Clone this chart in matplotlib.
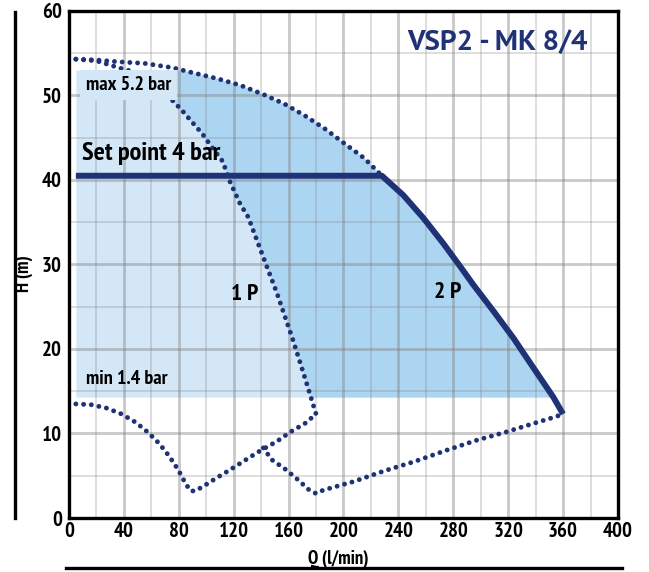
import numpy as np
import matplotlib
matplotlib.use('Agg')
import matplotlib.pyplot as plt
from matplotlib.lines import Line2D

plt.rcParams['font.family'] = ['PT Sans Narrow', 'DejaVu Sans']
plt.rcParams['font.weight'] = 'bold'
plt.rcParams['axes.labelweight'] = 'bold'

""" Curve data read from the picture """

# max pressure curve (outer dotted)
max_q = [5, 20, 35, 55, 75, 90, 108, 125, 142, 157, 172, 187, 200, 215, 228]
max_h = [54.3, 54.2, 54.0, 53.8, 53.3, 52.7, 52.0, 51.2, 50.1, 49.0, 47.6, 46.0, 44.4, 42.6, 40.5]

# one pump curve
p1_q = [5, 20, 30, 40, 45, 60, 73.6, 82, 89.4, 97, 104, 112, 117.3, 124.6, 130.6,
        138.7, 145.2, 151.3, 157, 162.5, 167.8, 173.2, 176.8, 180]
p1_h = [54.3, 54.1, 53.6, 53.1, 52.9, 51.6, 49.7, 48.3, 46.9, 45.5, 43.9, 42.2, 39.8,
        37.2, 35.6, 32.1, 29.3, 26.7, 24.0, 21.4, 18.7, 15.9, 14.0, 12.3]

# lower curve for one pump
low1_q = [5, 16.5, 27.5, 38.4, 48.8, 57.8, 65.8, 73.1, 79.6, 85.2, 88.7, 91.8, 97.4,
          107.1, 117.3, 127, 136.7, 142, 151.8, 161.5, 172, 180]
low1_h = [13.5, 13.4, 13.0, 12.3, 11.3, 10.1, 8.8, 7.3, 5.7, 4.0, 3.2, 3.2, 3.7,
          4.7, 5.7, 6.7, 7.7, 8.2, 9.1, 10.2, 11.2, 12.3]

# lower curve for two pumps
low2_q = [141.6, 147.7, 157.4, 166.3, 175.1, 180, 185.3, 196.2, 207.2, 230.2, 252.1,
          274.7, 297, 318.9, 340.7, 352.9, 360]
low2_h = [8.3, 6.9, 5.8, 4.6, 3.3, 2.9, 3.3, 3.8, 4.3, 5.6, 6.7, 8.0, 9.2, 10.2,
          11.3, 11.9, 12.3]

# set point line + two pump curve
p2_q = [5, 228, 243.6, 258.2, 272.7, 284.9, 294.6, 309.2, 323.8, 338.3, 352.9, 360]
p2_h = [40.5, 40.5, 38.2, 35.5, 32.5, 29.8, 27.6, 24.5, 21.3, 17.8, 14.3, 12.3]

band_min = 14.3   # min 1.4 bar
band_max = 53.0   # max 5.2 bar
band_left = 5

navy = '#1f3275'
light = '#d3e7f7'
dark = '#acd5f1'

fig = plt.figure(figsize=(6.49, 5.72), dpi=100)
ax = fig.add_axes([0.1063, 0.0944, 0.8459, 0.8864])

""" Filled regions """

hh = np.linspace(band_min, band_max, 400)
x1p = np.interp(hh, p1_h[::-1], p1_q[::-1])
env_h = list(p2_h[1:][::-1]) + list(max_h[::-1][1:])
env_q = list(p2_q[1:][::-1]) + list(max_q[::-1][1:])
xenv = np.interp(hh, env_h, env_q)

ax.fill_betweenx(hh, band_left, x1p, color=light, lw=0, zorder=1)
ax.fill_betweenx(hh, x1p, xenv, color=dark, lw=0, zorder=1)

""" Curves """

dots = dict(color=navy, lw=3.5, linestyle=(0, (0.01, 1.58)),
            dash_capstyle='round', zorder=4)
ax.plot(max_q, max_h, **dots)
ax.plot(p1_q, p1_h, **dots)
ax.plot(low1_q, low1_h, **dots)
ax.plot(low2_q, low2_h, **dots)
ax.plot(p2_q, p2_h, color=navy, lw=4.3, solid_capstyle='butt',
        solid_joinstyle='round', zorder=5)

""" Labels """

txt = dict(fontweight='bold', va='center', zorder=6)
ax.text(12.5, 51.2, 'max 5.2 bar', fontsize=14.5, ha='left',
        bbox=dict(facecolor=light, edgecolor='none', boxstyle='square,pad=0.3'), **txt)
ax.text(9.5, 43.1, 'Set point 4 bar', fontsize=19, ha='left', **txt)
ax.text(12.5, 16.4, 'min 1.4 bar', fontsize=14.5, ha='left', **txt)
ax.text(128, 26.4, '1 P', fontsize=17, ha='center', **txt)
ax.text(275.6, 26.7, '2 P', fontsize=17, ha='center', **txt)
ax.text(312, 56.2, 'VSP2 - MK 8/4', fontsize=21, color=navy, ha='center',
        family=['PT Sans', 'DejaVu Sans'], **txt)

""" Axes """

ax.set_xlim(0, 400)
ax.set_ylim(0, 60)
ax.set_xticks(np.arange(0, 401, 40))
ax.set_xticks(np.arange(0, 401, 20), minor=True)
ax.set_yticks(np.arange(0, 61, 10))
ax.set_yticks(np.arange(0, 61, 5), minor=True)
ax.set_axisbelow(False)
ax.grid(which='major', color='#7f7f7f', alpha=0.42, lw=2.0, zorder=2.5)
ax.grid(which='minor', color='#7f7f7f', alpha=0.3, lw=1.2, zorder=2.5)
ax.tick_params(which='both', length=0, labelsize=15, pad=3)
ax.tick_params(axis='y', pad=5)
for lab in ax.get_xticklabels() + ax.get_yticklabels():
    lab.set_fontweight('bold')
for sp in ax.spines.values():
    sp.set_linewidth(2.4)
    sp.set_color('black')
    sp.set_zorder(7)

ax.set_xlabel('Q (l/min)', fontsize=13.5, fontweight='bold')
ax.set_ylabel('H (m)', fontsize=13.5, fontweight='bold')
ax.xaxis.set_label_coords(0.49, -0.062)
ax.yaxis.set_label_coords(-0.065, 0.483)

# decorative rules next to the axis titles
fig.add_artist(Line2D([15 / 649, 15 / 649], [1 - 12 / 572, 1 - 518 / 572],
                      color='black', lw=2.4))
fig.add_artist(Line2D([66 / 649, 622 / 649], [1 - 568 / 572, 1 - 568 / 572],
                      color='black', lw=2.4))

fig.savefig('out.png', dpi=100)
